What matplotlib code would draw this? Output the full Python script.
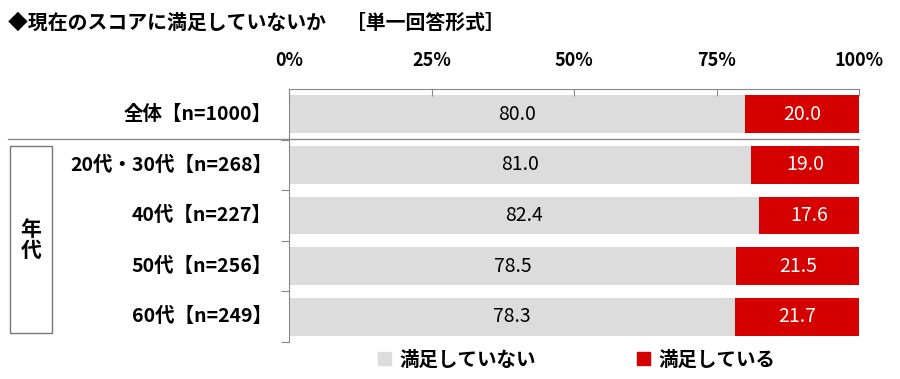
import matplotlib.pyplot as plt
from matplotlib.patches import Rectangle, Patch
from matplotlib.lines import Line2D

plt.rcParams['font.family'] = ['Noto Sans CJK JP', 'DejaVu Sans']

# data
categories = ['全体【n=1000】', '20代・30代【n=268】', '40代【n=227】', '50代【n=256】', '60代【n=249】']
not_satisfied = [80.0, 81.0, 82.4, 78.5, 78.3]
satisfied = [20.0, 19.0, 17.6, 21.5, 21.7]
series_names = ['満足していない', '満足している']
xticks = [0, 25, 50, 75, 100]

GRAY = '#DCDCDC'
RED = '#D50000'

fig = plt.figure(figsize=(9, 3.79), dpi=100)
ax = fig.add_axes([289 / 900, 1 - 342 / 379, 570 / 900, 253 / 379])

y = list(range(len(categories)))
ax.barh(y, not_satisfied, height=0.75, color=GRAY)
ax.barh(y, satisfied, left=not_satisfied, height=0.75, color=RED)

for i in y:
    ax.text(not_satisfied[i] / 2, i, f'{not_satisfied[i]:.1f}', ha='center', va='center',
            fontsize=14, color='black')
    ax.text(not_satisfied[i] + satisfied[i] / 2, i, f'{satisfied[i]:.1f}', ha='center', va='center',
            fontsize=14, color='white')

ax.set_xlim(0, 100)
ax.set_ylim(len(categories) - 0.5, -0.5)

# top axis with percent labels
ax.xaxis.set_ticks_position('top')
ax.set_xticks(xticks)
ax.set_xticklabels([f'{t}%' for t in xticks], fontsize=13, fontweight='bold')
ax.tick_params(axis='x', direction='in', length=5, color='#888888', pad=14)

# left ticks at row boundaries
ax.set_yticks([i + 0.5 for i in y])
ax.set_yticklabels([])
ax.tick_params(axis='y', direction='out', length=6, color='#888888')

for side in ['right', 'bottom']:
    ax.spines[side].set_visible(False)
for side in ['top', 'left']:
    ax.spines[side].set_color('#888888')

# category labels
for i, c in enumerate(categories):
    ax.text(-3.0, i, c, ha='right', va='center', fontsize=14, fontweight='bold')

# separator under the total row
sep_y = 1 - 139 / 379
fig.add_artist(Line2D([8 / 900, 859 / 900], [sep_y, sep_y], color='#888888', lw=1))

# "年代" box
fig.add_artist(Rectangle((10 / 900, 1 - 333 / 379), 42 / 900, 187 / 379, fill=False,
                         edgecolor='#777777', lw=1))
fig.text(31 / 900, 1 - 240 / 379, '年\n代', ha='center', va='center', fontsize=15,
         fontweight='bold', linespacing=1.0)

# title
fig.text(8 / 900, 1 - 22 / 379, '◆現在のスコアに満足していないか　［単一回答形式］',
         ha='left', va='center', fontsize=14.3, fontweight='bold')

# legend
handles = [Patch(color=GRAY), Patch(color=RED)]
fig.legend(handles, series_names, loc='center', bbox_to_anchor=(577 / 900, 1 - 360 / 379),
           ncol=2, frameon=False, handlelength=0.65, handleheight=0.65, handletextpad=0.45,
           columnspacing=5.2, prop={'size': 14, 'weight': 'bold'})

fig.savefig('out.png', dpi=100)
